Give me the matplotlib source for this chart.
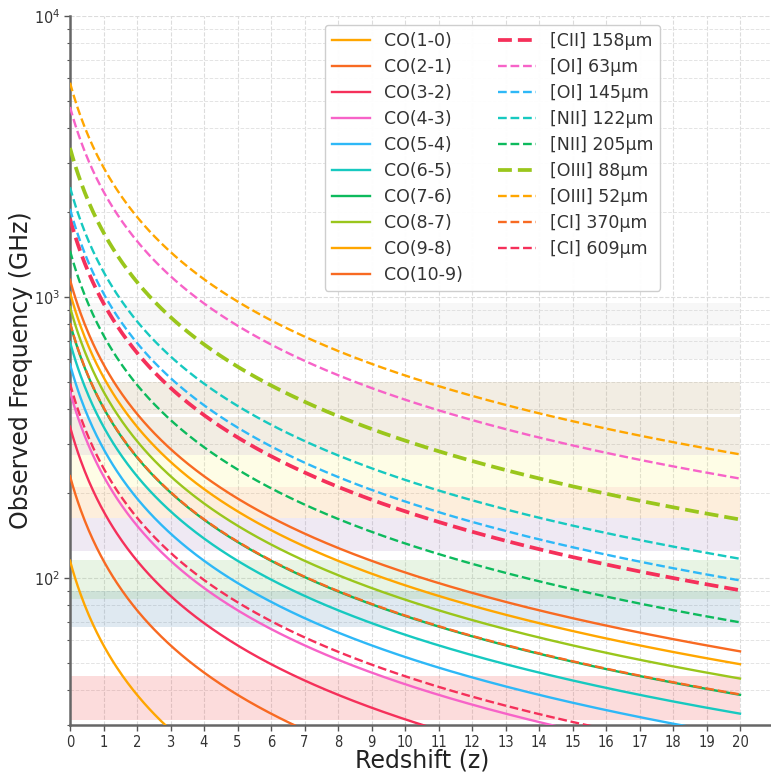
import numpy as np
import matplotlib
matplotlib.use("Agg")
import matplotlib.pyplot as plt

# rest frequencies (GHz)
co_labels = ["CO(1-0)", "CO(2-1)", "CO(3-2)", "CO(4-3)", "CO(5-4)",
             "CO(6-5)", "CO(7-6)", "CO(8-7)", "CO(9-8)", "CO(10-9)"]
co_rest = [115.27, 230.54, 345.80, 461.04, 576.27,
           691.47, 806.65, 921.80, 1036.91, 1151.99]

fs_labels = ["[CII] 158µm", "[OI] 63µm", "[OI] 145µm", "[NII] 122µm", "[NII] 205µm",
             "[OIII] 88µm", "[OIII] 52µm", "[CI] 370µm", "[CI] 609µm"]
fs_rest = [1900.54, 4744.78, 2060.07, 2459.38, 1461.13,
           3393.01, 5785.88, 809.34, 492.16]
fs_thick = ["[CII] 158µm", "[OIII] 88µm"]

# ALMA bands (GHz)
band_lo = [31.3, 67, 84, 125, 163, 211, 275, 385, 602, 787]
band_hi = [45, 90, 116, 163, 211, 275, 373, 500, 720, 950]
band_colors = ["#f05050", "#5f91b9", "#8cc878", "#af91c3", "#f5aa50",
               "#faf582", "#bea573", "#bea573", "#d7d7d7", "#d7d7d7"]

palette = ["#FFA600", "#F86A22", "#F5305A", "#F763C8",
           "#2EB8F7", "#17C9C0", "#0DBA5D", "#9AC61C"]

z = np.linspace(0, 20, 500)

fig = plt.figure(figsize=(7.71, 7.72), dpi=100)
ax = fig.add_axes([70/771, 1-725/772, 21*33.5/771, (725-16)/772])

for lo, hi, c in zip(band_lo, band_hi, band_colors):
    ax.fill_between([0, 20], lo, hi, color=c, alpha=0.2, lw=0, zorder=1)

i = 0
for lab, nu in zip(co_labels, co_rest):
    ax.plot(z, nu/(1+z), color=palette[i % 8], lw=1.7, label=lab, zorder=3)
    i += 1
for lab, nu in zip(fs_labels, fs_rest):
    lw = 2.7 if lab in fs_thick else 1.7
    ax.plot(z, nu/(1+z), color=palette[i % 8], lw=lw, ls="--", label=lab, zorder=3)
    i += 1

ax.set_yscale("log")
ax.set_ylim(30, 1e4)
ax.set_xlim(0, 21)
ax.set_xticks(range(21))

ax.grid(True, which="major", ls="--", color="#dcdcdc", lw=0.8)
ax.grid(True, which="minor", axis="y", ls="--", color="#e4e4e4", lw=0.7)
ax.set_axisbelow(True)

for s in ["top", "right"]:
    ax.spines[s].set_visible(False)
for s in ["left", "bottom"]:
    ax.spines[s].set_color("#666666")
    ax.spines[s].set_linewidth(1.8)

ax.tick_params(axis="both", which="both", colors="#555555", labelcolor="#333333")
ax.tick_params(axis="both", which="major", length=4, width=1, labelsize=10.5)
ax.tick_params(axis="y", which="major", labelsize=11.5, pad=3)
ax.tick_params(axis="x", which="major", pad=3)
ax.tick_params(axis="y", which="minor", length=2.5, width=0.8)
for t in ax.get_xticklabels() + ax.get_yticklabels():
    t.set_family(["Liberation Sans Narrow", "DejaVu Sans"])
    t.set_fontstretch("condensed")

ax.set_xlabel("Redshift (z)", fontsize=17, color="#222222", labelpad=-1)
ax.set_ylabel("Observed Frequency (GHz)", fontsize=17, color="#222222", labelpad=1)

leg = ax.legend(ncol=2, fontsize=12.5, loc="upper left",
                bbox_to_anchor=(325/771, 1-25/772), bbox_transform=fig.transFigure,
                borderaxespad=0, frameon=True, fancybox=True, framealpha=0.95,
                edgecolor="#cccccc", handlelength=2.2, labelspacing=0.46)
for t in leg.get_texts():
    t.set_color("#333333")

fig.savefig("out.png", dpi=100)
